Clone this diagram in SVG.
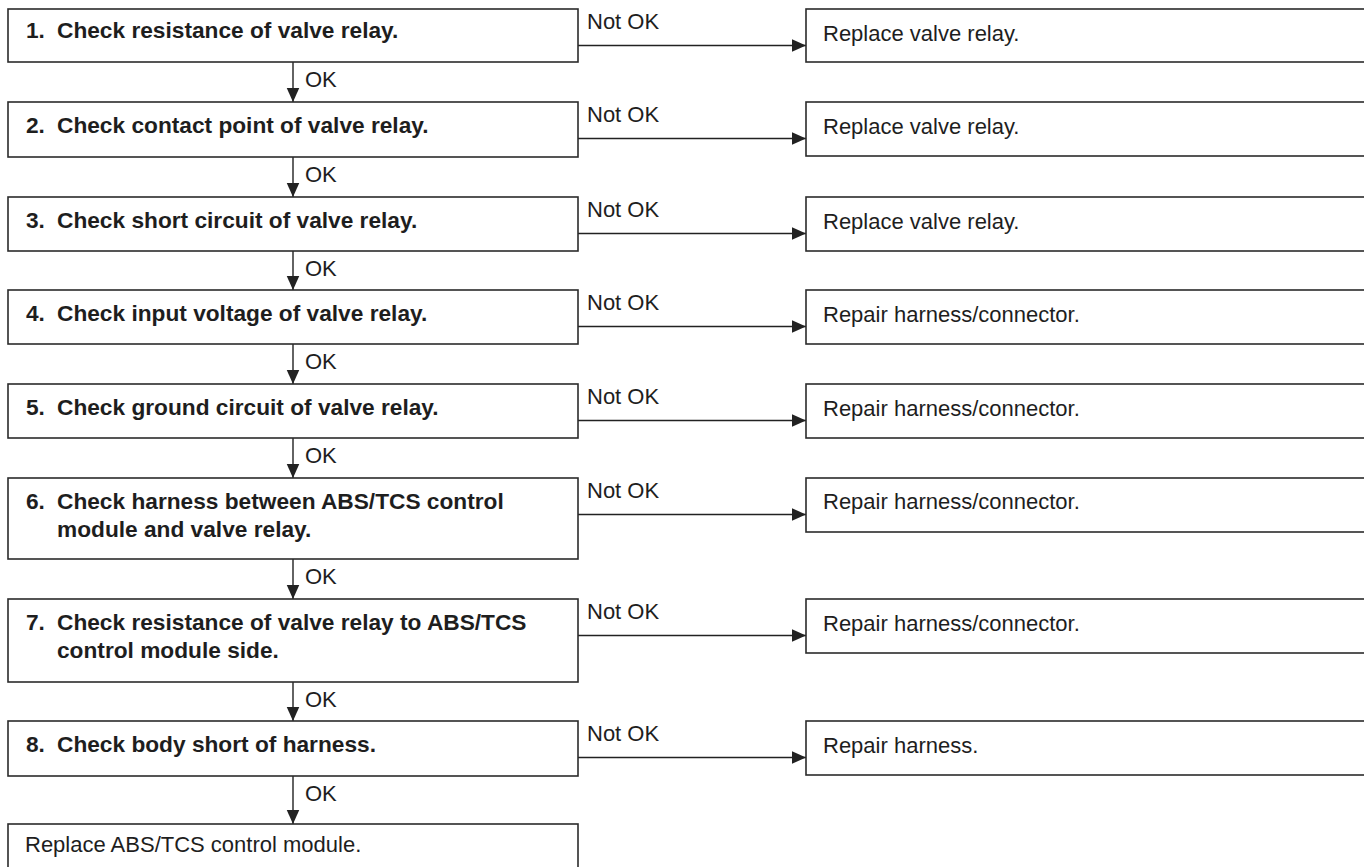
<svg xmlns="http://www.w3.org/2000/svg" width="1364" height="867" viewBox="0 0 1364 867">
<style>
.box{fill:#fff;stroke:#2b2b2b;stroke-width:1.6}
.b{font-family:"Liberation Sans",Arial,sans-serif;font-weight:bold;font-size:22.7px;fill:#1e1e1e}
.r{font-family:"Liberation Sans",Arial,sans-serif;font-size:22px;fill:#1e1e1e}
.ln{stroke:#222;stroke-width:1.4;fill:none;marker-end:url(#ah)}
</style>
<defs>
<marker id="ah" markerUnits="userSpaceOnUse" markerWidth="15" markerHeight="14" refX="14.5" refY="6.5" orient="auto">
<path d="M0,0 L14.5,6.5 L0,13 z" fill="#222"/>
</marker>
</defs>
<rect width="1364" height="867" fill="#fff"/>
<g id="connectors">
<line class="ln" x1="293" y1="62" x2="293" y2="102"/>
<line class="ln" x1="293" y1="157" x2="293" y2="197"/>
<line class="ln" x1="293" y1="251" x2="293" y2="290"/>
<line class="ln" x1="293" y1="344" x2="293" y2="384"/>
<line class="ln" x1="293" y1="438" x2="293" y2="478"/>
<line class="ln" x1="293" y1="559" x2="293" y2="599"/>
<line class="ln" x1="293" y1="682" x2="293" y2="721"/>
<line class="ln" x1="293" y1="776" x2="293" y2="824"/>
<line class="ln" x1="578" y1="45.5" x2="806" y2="45.5"/>
<line class="ln" x1="578" y1="138.5" x2="806" y2="138.5"/>
<line class="ln" x1="578" y1="233.5" x2="806" y2="233.5"/>
<line class="ln" x1="578" y1="326.5" x2="806" y2="326.5"/>
<line class="ln" x1="578" y1="420.5" x2="806" y2="420.5"/>
<line class="ln" x1="578" y1="514.5" x2="806" y2="514.5"/>
<line class="ln" x1="578" y1="635.5" x2="806" y2="635.5"/>
<line class="ln" x1="578" y1="757.5" x2="806" y2="757.5"/>
<text class="r" x="305" y="87">OK</text>
<text class="r" x="305" y="182">OK</text>
<text class="r" x="305" y="276">OK</text>
<text class="r" x="305" y="369">OK</text>
<text class="r" x="305" y="463">OK</text>
<text class="r" x="305" y="584">OK</text>
<text class="r" x="305" y="707">OK</text>
<text class="r" x="305" y="801">OK</text>
<text class="r" x="587" y="29">Not OK</text>
<text class="r" x="587" y="122">Not OK</text>
<text class="r" x="587" y="217">Not OK</text>
<text class="r" x="587" y="310">Not OK</text>
<text class="r" x="587" y="404">Not OK</text>
<text class="r" x="587" y="498">Not OK</text>
<text class="r" x="587" y="619">Not OK</text>
<text class="r" x="587" y="741">Not OK</text>
</g>
<g id="step1"><rect class="box" x="8" y="9" width="570" height="53"/><text class="b" y="38"><tspan x="26">1.</tspan><tspan x="57">Check resistance of valve relay.</tspan></text></g>
<g id="step2"><rect class="box" x="8" y="102" width="570" height="55"/><text class="b" y="133"><tspan x="26">2.</tspan><tspan x="57">Check contact point of valve relay.</tspan></text></g>
<g id="step3"><rect class="box" x="8" y="197" width="570" height="54"/><text class="b" y="228"><tspan x="26">3.</tspan><tspan x="57">Check short circuit of valve relay.</tspan></text></g>
<g id="step4"><rect class="box" x="8" y="290" width="570" height="54"/><text class="b" y="321"><tspan x="26">4.</tspan><tspan x="57">Check input voltage of valve relay.</tspan></text></g>
<g id="step5"><rect class="box" x="8" y="384" width="570" height="54"/><text class="b" y="415"><tspan x="26">5.</tspan><tspan x="57">Check ground circuit of valve relay.</tspan></text></g>
<g id="step6"><rect class="box" x="8" y="478" width="570" height="81"/><text class="b" y="509"><tspan x="26">6.</tspan><tspan x="57">Check harness between ABS/TCS control</tspan><tspan x="57" y="537">module and valve relay.</tspan></text></g>
<g id="step7"><rect class="box" x="8" y="599" width="570" height="83"/><text class="b" y="630"><tspan x="26">7.</tspan><tspan x="57">Check resistance of valve relay to ABS/TCS</tspan><tspan x="57" y="658">control module side.</tspan></text></g>
<g id="step8"><rect class="box" x="8" y="721" width="570" height="55"/><text class="b" y="752"><tspan x="26">8.</tspan><tspan x="57">Check body short of harness.</tspan></text></g>
<g id="final"><rect class="box" x="8" y="824" width="570" height="80"/><text class="r" x="25" y="852">Replace ABS/TCS control module.</text></g>
<g id="fix1"><rect class="box" x="806" y="9" width="600" height="53"/><text class="r" x="823" y="41">Replace valve relay.</text></g>
<g id="fix2"><rect class="box" x="806" y="102" width="600" height="54"/><text class="r" x="823" y="134">Replace valve relay.</text></g>
<g id="fix3"><rect class="box" x="806" y="197" width="600" height="54"/><text class="r" x="823" y="229">Replace valve relay.</text></g>
<g id="fix4"><rect class="box" x="806" y="290" width="600" height="54"/><text class="r" x="823" y="322">Repair harness/connector.</text></g>
<g id="fix5"><rect class="box" x="806" y="384" width="600" height="54"/><text class="r" x="823" y="416">Repair harness/connector.</text></g>
<g id="fix6"><rect class="box" x="806" y="478" width="600" height="54"/><text class="r" x="823" y="509">Repair harness/connector.</text></g>
<g id="fix7"><rect class="box" x="806" y="599" width="600" height="54"/><text class="r" x="823" y="631">Repair harness/connector.</text></g>
<g id="fix8"><rect class="box" x="806" y="721" width="600" height="54"/><text class="r" x="823" y="753">Repair harness.</text></g>
</svg>
